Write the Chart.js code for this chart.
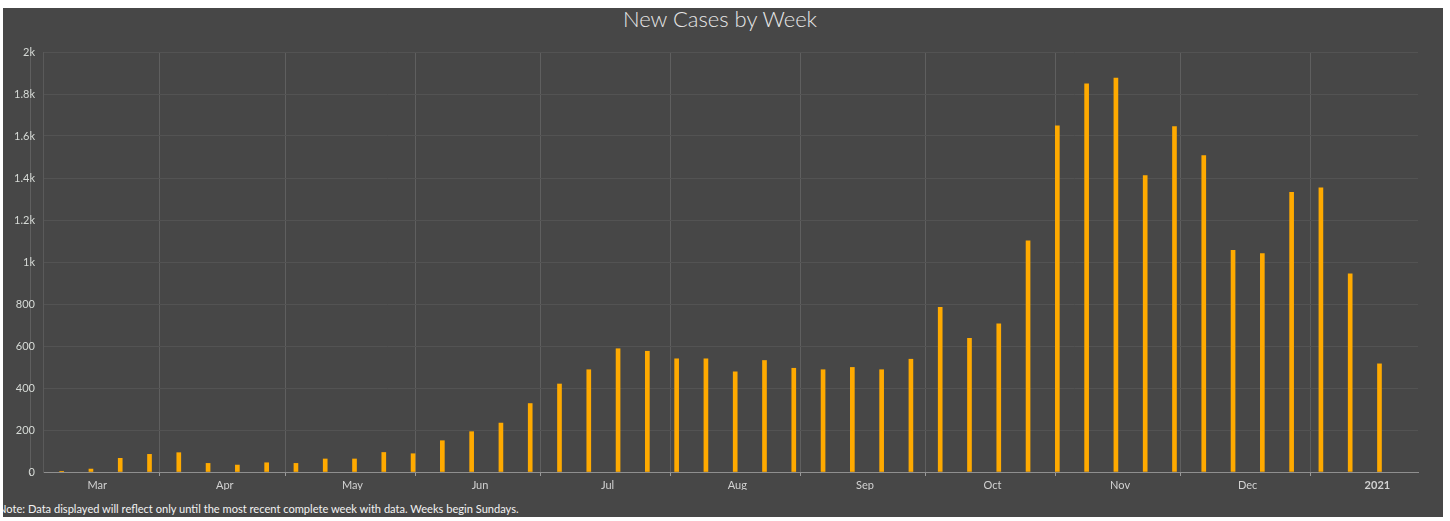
<!DOCTYPE html>
<html>
<head>
<meta charset="utf-8">
<script src="https://cdn.jsdelivr.net/npm/chart.js@4.4.0/dist/chart.umd.min.js"></script>
<style>
  html,body{margin:0;padding:0;background:#fff;width:1450px;height:521px;overflow:hidden;}
  #panel{position:absolute;left:3px;top:8px;width:1440px;height:509px;background:#474747;overflow:hidden;}
  #title{position:absolute;left:0;top:-2px;width:1434px;text-align:center;font:300 22px Lato,"Open Sans",sans-serif;line-height:26px;color:#e6e6e6;}
  #wrap{position:absolute;left:0;top:0;width:1440px;height:482px;}
  #note{position:absolute;left:-5px;top:494px;font:11.1px Lato,"Open Sans",sans-serif;color:#f2f2f2;white-space:nowrap;}
</style>
</head>
<body>
<div id="panel">
  <div id="title">New Cases by Week</div>
  <div id="wrap"><canvas id="c"></canvas></div>
  <div id="note">Note: Data displayed will reflect only until the most recent complete week with data. Weeks begin Sundays.</div>
</div>
<script>
// week start dates (Sundays) and new cases per week
var weeks = ["2020-03-08","2020-03-15","2020-03-22","2020-03-29",
  "2020-04-05","2020-04-12","2020-04-19","2020-04-26",
  "2020-05-03","2020-05-10","2020-05-17","2020-05-24","2020-05-31",
  "2020-06-07","2020-06-14","2020-06-21","2020-06-28",
  "2020-07-05","2020-07-12","2020-07-19","2020-07-26",
  "2020-08-02","2020-08-09","2020-08-16","2020-08-23","2020-08-30",
  "2020-09-06","2020-09-13","2020-09-20","2020-09-27",
  "2020-10-04","2020-10-11","2020-10-18","2020-10-25",
  "2020-11-01","2020-11-08","2020-11-15","2020-11-22","2020-11-29",
  "2020-12-06","2020-12-13","2020-12-20","2020-12-27",
  "2021-01-03","2021-01-10","2021-01-17"];
var cases = [1,14,65,84, 92,41,33,44, 41,62,62,93,87, 149,192,233,326,
  419,487,587,575, 539,539,477,531,494, 487,498,487,537,
  784,636,705,1101, 1648,1848,1876,1411,1645, 1507,1055,1040,1332,
  1353,944,515];
var months = ["2020-03-01","2020-04-01","2020-05-01","2020-06-01","2020-07-01","2020-08-01",
  "2020-09-01","2020-10-01","2020-11-01","2020-12-01","2021-01-01","2021-02-01"];
var monthLabels = ["Mar","Apr","May","Jun","Jul","Aug","Sep","Oct","Nov","Dec","2021"];
var yTicks = [0,200,400,600,800,1000,1200,1400,1600,1800,2000];
var xFrom = "2020-03-04 01", xTo = "2021-01-26 17";

var DAY = 86400000, ORIGIN = Date.UTC(2020,2,1);
function day(s){
  var p=s.split(/[- ]/);
  return (Date.UTC(+p[0],p[1]-1,+p[2],+(p[3]||0))-ORIGIN)/DAY;
}

var starts = months.map(day);
var mids = monthLabels.map(function(l,i){return (starts[i]+starts[i+1])/2+0.5;});
var labelAt = {}; mids.forEach(function(m,i){labelAt[m]=monthLabels[i];});
var isStart = {}; starts.forEach(function(s){isStart[s]=true;});
var points = weeks.map(function(w,i){return {x:day(w)+0.5,y:cases[i]};});

var FONT = "Lato, 'Open Sans', sans-serif";
new Chart(document.getElementById("c"), {
  type: "bar",
  data: {datasets: [{label:"New Cases", data: points, backgroundColor:"#ffaa00",
    borderWidth:0, barThickness:4}]},
  options: {
    responsive:true, maintainAspectRatio:false, animation:false,
    layout:{padding:{left:0,right:25,top:44,bottom:0}},
    plugins:{legend:{display:false}, tooltip:{enabled:false}},
    scales:{
      x:{type:"linear", min:day(xFrom), max:day(xTo), offset:false,
        afterBuildTicks:function(s){
          s.ticks = starts.slice(0,11).concat(mids).sort(function(a,b){return a-b;})
            .map(function(v){return {value:v};});
        },
        afterFit:function(s){s.height=18;},
        ticks:{autoSkip:false, maxRotation:0, padding:3, color:"#d2d2d2",
          font:function(c){return {family:FONT,size:11,weight:(c.tick&&labelAt[c.tick.value]==="2021")?"bold":"normal"};},
          callback:function(v){return labelAt[v]||"";}},
        grid:{offset:false, color:function(c){return c.tick&&isStart[c.tick.value]?"#5f5f5f":"rgba(0,0,0,0)";},
          tickColor:function(c){return c.tick&&isStart[c.tick.value]?"#9a9a9a":"rgba(0,0,0,0)";},
          tickLength:4, lineWidth:1},
        border:{display:true, color:"#8f8f8f", width:1}
      },
      y:{min:0, max:2000,
        afterBuildTicks:function(s){s.ticks=yTicks.map(function(v){return {value:v};});},
        afterFit:function(s){s.width=40;},
        ticks:{padding:8, color:"#d6dad6", font:{family:FONT,size:11},
          callback:function(v){return v>=1000?(v/1000)+"k":v;}},
        grid:{color:"#535353", drawTicks:false},
        border:{display:true, color:"#5a5a5a"}
      }
    }
  }
});
</script>
</body>
</html>
